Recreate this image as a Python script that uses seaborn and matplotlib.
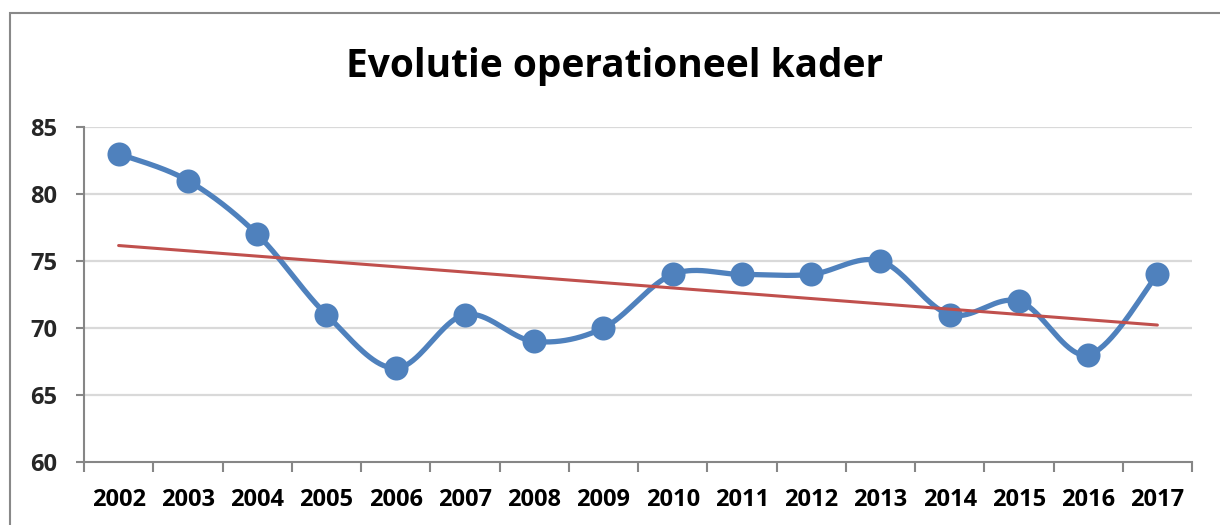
import numpy as np
import pandas as pd
import matplotlib
matplotlib.use("Agg")
import matplotlib.pyplot as plt
import seaborn as sns
from matplotlib.patches import Rectangle

years = ["2002", "2003", "2004", "2005", "2006", "2007", "2008", "2009",
         "2010", "2011", "2012", "2013", "2014", "2015", "2016", "2017"]
values = [83, 81, 77, 71, 67, 71, 69, 70, 74, 74, 74, 75, 71, 72, 68, 74]
title = "Evolutie operationeel kader"
yticks = [60, 65, 70, 75, 80, 85]

sns.set_theme(style="white")
plt.rcParams['font.family'] = ['Open Sans', 'DejaVu Sans']

BLUE = "#4F81BD"
RED = "#C0504D"
GRID = "#D9D9D9"
AXC = "#868686"

x = np.arange(len(values), dtype=float)
y = np.array(values, dtype=float)

# Excel-style smoothing (Catmull-Rom Bezier)
def smooth(xs, ys, n=40):
    P = np.column_stack([xs, ys])
    Pe = np.vstack([P[0], P, P[-1]])
    out = []
    for i in range(len(P) - 1):
        p0, p1, p2, p3 = Pe[i], Pe[i + 1], Pe[i + 2], Pe[i + 3]
        c1 = p1 + (p2 - p0) / 6.0
        c2 = p2 - (p3 - p1) / 6.0
        t = np.linspace(0, 1, n, endpoint=(i == len(P) - 2))[:, None]
        b = ((1 - t) ** 3) * p1 + 3 * ((1 - t) ** 2) * t * c1 + 3 * (1 - t) * t ** 2 * c2 + t ** 3 * p2
        out.append(b)
    out = np.vstack(out)
    return out[:, 0], out[:, 1]

sx, sy = smooth(x, y)
df_s = pd.DataFrame({"x": sx, "y": sy})
df = pd.DataFrame({"x": x, "y": y})

fig = plt.figure(figsize=(12.2, 5.25), dpi=100)
ax = fig.add_axes([84 / 1220, 1 - 462 / 525, (1192 - 84) / 1220, (462 - 127) / 525])

fig.patches.append(Rectangle((10 / 1220, -0.1), 1.2, 1 - 13 / 525 + 0.1,
                             transform=fig.transFigure, fill=False,
                             edgecolor="#898989", linewidth=1.5, zorder=0))

ax.set_ylim(60, 85)
ax.set_xlim(-0.5, len(values) - 0.5)
ax.set_yticks(yticks)
for yt in yticks[1:]:
    ax.axhline(yt, color=GRID, linewidth=1.6, zorder=0)

sns.lineplot(data=df_s, x="x", y="y", sort=False, estimator=None,
             color=BLUE, linewidth=3.8, ax=ax, zorder=3)
sns.scatterplot(data=df, x="x", y="y", color=BLUE, s=300, edgecolor=BLUE,
                linewidth=0, ax=ax, zorder=4)
sns.regplot(data=df, x="x", y="y", scatter=False, ci=None, truncate=True,
            color=RED, line_kws={"linewidth": 2.2, "zorder": 5}, ax=ax)

ax.set_xlabel("")
ax.set_ylabel("")
ax.set_xticks(x)
ax.set_xticklabels(years)
ax.set_xticks(np.arange(-0.5, len(values), 1.0), minor=True)
ax.tick_params(axis="x", which="major", length=0, pad=19, labelsize=17, colors="black")
ax.tick_params(axis="x", which="minor", length=7, width=1.5, color=AXC, bottom=True, direction="out")
ax.tick_params(axis="y", which="major", length=6, width=1.5, color=AXC, left=True, pad=13, labelsize=17)
for lab in ax.get_xticklabels() + ax.get_yticklabels():
    lab.set_fontweight("bold")

for s in ["top", "right"]:
    ax.spines[s].set_visible(False)
for s in ["left", "bottom"]:
    ax.spines[s].set_color(AXC)
    ax.spines[s].set_linewidth(1.5)

fig.text(615 / 1220, 1 - 66 / 525, title, ha="center", va="center",
         fontsize=28, fontweight="bold", color="black",
         family=["Open Sans", "DejaVu Sans"])

fig.savefig("out.png", dpi=100)
